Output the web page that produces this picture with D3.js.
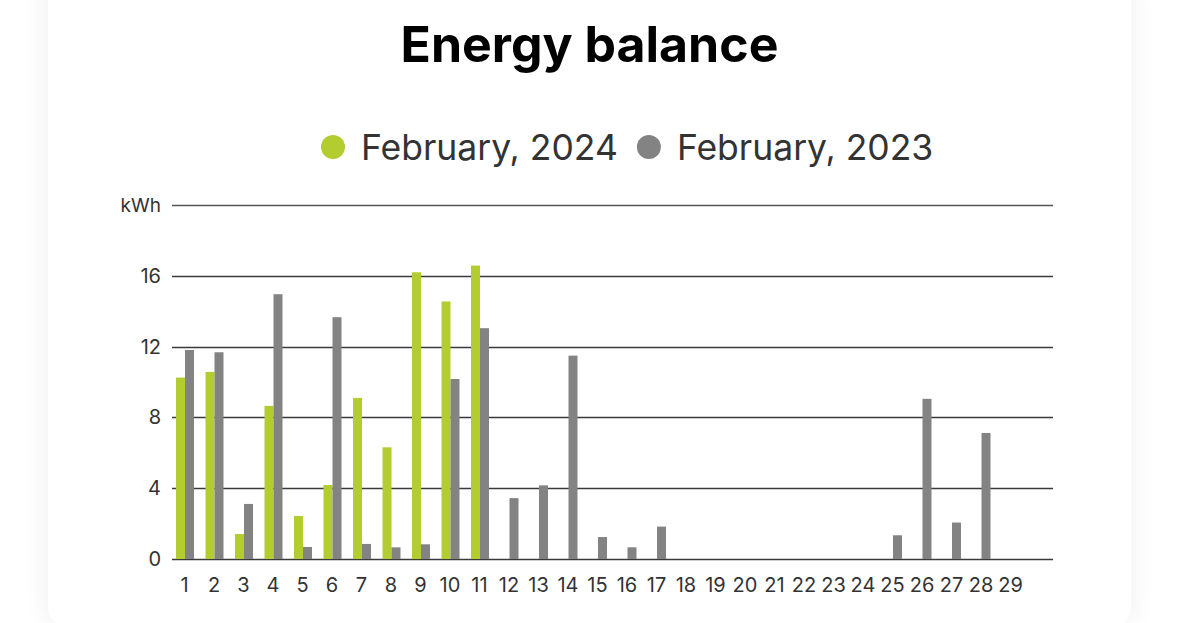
<!DOCTYPE html>
<html>
<head>
<meta charset="utf-8">
<script src="https://cdn.jsdelivr.net/npm/d3@7"></script>
<style>
  html, body { margin: 0; padding: 0; background: #fff; overflow: hidden; }
  body { width: 1179px; height: 623px; position: relative; font-family: Inter, "Noto Sans", sans-serif; }
  #card {
    position: absolute; left: 48px; top: -30px; width: 1083px; height: 656px;
    background: #fff; border-radius: 18px;
    box-shadow: 0 0 28px rgba(0, 0, 0, 0.07);
  }
  #chart { position: absolute; left: 0; top: 0; }
</style>
</head>
<body>
<div id="card"></div>
<div id="chart"></div>
<script>
var chartWidth = 1179;
var chartHeight = 623;

// Days of February
var days = d3.range(1, 30);
// kWh per day, February 2024 (null = no data yet)
var values2024 = [10.25, 10.57, 1.41, 8.65, 2.43, 4.18, 9.1, 6.31, 16.2, 14.55, 16.58,
  null, null, null, null, null, null, null, null, null, null, null, null, null, null, null, null, null, null];
// kWh per day, February 2023
var values2023 = [11.81, 11.68, 3.11, 14.96, 0.68, 13.66, 0.85, 0.66, 0.83, 10.17, 13.04,
  3.44, 4.16, 11.49, 1.24, 0.66, 1.83, 0, 0, 0, 0, 0, 0, 0, 1.34, 9.05, 2.06, 7.12, 0];
var seriesNames = ["February, 2024", "February, 2023"];
var seriesColors = ["#b3cd31", "#838383"];
var yTicks = [0, 4, 8, 12, 16];
var yTop = 20;

var svg = d3.select("#chart")
  .append("svg")
  .attr("width", chartWidth)
  .attr("height", chartHeight);

// Scales
var y = d3.scaleLinear().domain([0, yTop]).range([559, 205]);
var x = d3.scaleBand().domain(days).range([170.25, 1025.75]).paddingInner(0.39).paddingOuter(0.195);
var xSeries = d3.scaleBand().domain([0, 1]).range([0, x.bandwidth()]);

// Title
svg.append("text")
  .attr("x", 589.5)
  .attr("y", 62)
  .attr("text-anchor", "middle")
  .style("font-size", "50px")
  .style("font-weight", 700)
  .style("fill", "#000")
  .text("Energy balance");

// Legend
var legend = svg.append("g");
var legendX = 321;
seriesNames.forEach(function (name, i) {
  legend.append("circle")
    .attr("cx", legendX + 12)
    .attr("cy", 147)
    .attr("r", 12)
    .style("fill", seriesColors[i]);
  var label = legend.append("text")
    .attr("x", legendX + 40)
    .attr("y", 160)
    .style("font-size", "35.5px")
    .style("fill", "#333")
    .text(name);
  legendX += 40 + label.node().getComputedTextLength() + 19;
});

// Gridlines
var gridValues = yTicks.concat([yTop]);
svg.append("g")
  .selectAll("line")
  .data(gridValues)
  .enter()
  .append("line")
  .attr("x1", 172)
  .attr("x2", 1053)
  .attr("y1", function (d) { return Math.round(y(d)) + 0.5; })
  .attr("y2", function (d) { return Math.round(y(d)) + 0.5; })
  .style("stroke", function (d) { return d === yTop ? "#555" : "#3a3a3a"; })
  .style("stroke-width", 1.4);

// Y labels
svg.append("g")
  .selectAll("text")
  .data(gridValues)
  .enter()
  .append("text")
  .attr("x", 161)
  .attr("y", function (d) { return y(d) + 7; })
  .attr("text-anchor", "end")
  .style("font-size", function (d) { return d === yTop ? "19px" : "20px"; })
  .style("fill", "#333")
  .text(function (d) { return d === yTop ? "kWh" : d; });

// Bars
var groups = svg.append("g")
  .selectAll("g")
  .data(days)
  .enter()
  .append("g")
  .attr("transform", function (d) { return "translate(" + x(d) + ",0)"; });

groups.selectAll("rect")
  .data(function (d, i) {
    return [values2024[i], values2023[i]]
      .map(function (v, j) { return { value: v, series: j }; })
      .filter(function (b) { return b.value !== null && b.value > 0; });
  })
  .enter()
  .append("rect")
  .attr("x", function (b) { return xSeries(b.series); })
  .attr("width", xSeries.bandwidth())
  .attr("y", function (b) { return y(b.value); })
  .attr("height", function (b) { return y(0) - y(b.value); })
  .style("fill", function (b) { return seriesColors[b.series]; });

// X labels
svg.append("g")
  .selectAll("text")
  .data(days)
  .enter()
  .append("text")
  .attr("x", function (d) { return x(d) + x.bandwidth() / 2 - 0.5; })
  .attr("y", 592)
  .attr("text-anchor", "middle")
  .style("font-size", "20px")
  .style("fill", "#333")
  .text(function (d) { return d; });
</script>
</body>
</html>
